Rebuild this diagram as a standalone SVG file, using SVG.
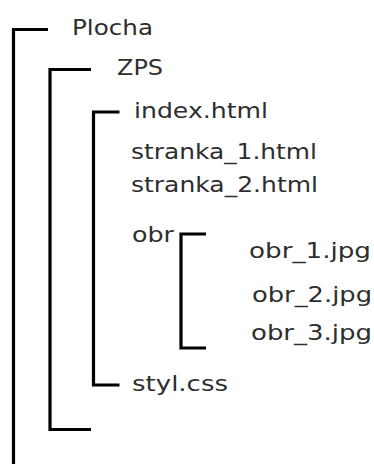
<svg xmlns="http://www.w3.org/2000/svg" width="374" height="464" viewBox="0 0 374 464">
<style>
  text { font-family: "DejaVu Sans", "Liberation Sans", sans-serif; font-size: 22px; fill: #2e2e2e; }
  .br { fill: none; stroke: #000; stroke-width: 3.2; stroke-linecap: butt; stroke-linejoin: miter; }
</style>
<rect width="374" height="464" fill="#fff"/>
<g id="connectors">
  <path class="br" d="M48,29.5 H13.5 V464"/>
  <path class="br" d="M91,69.5 H50 V429.5 H91"/>
  <path class="br" d="M119.5,112 H93.5 V385 H119.5"/>
  <path class="br" d="M206,234 H181 V348 H206"/>
</g>
<g id="plocha"><text x="72" y="34.5" textLength="81" lengthAdjust="spacingAndGlyphs">Plocha</text></g>
<g id="zps"><text x="117" y="75" textLength="46" lengthAdjust="spacingAndGlyphs">ZPS</text></g>
<g id="index"><text x="134" y="118" textLength="134" lengthAdjust="spacingAndGlyphs">index.html</text></g>
<g id="stranka1"><text x="131" y="159" textLength="186" lengthAdjust="spacingAndGlyphs">stranka_1.html</text></g>
<g id="stranka2"><text x="131" y="192" textLength="187" lengthAdjust="spacingAndGlyphs">stranka_2.html</text></g>
<g id="obr"><text x="132" y="241.5" textLength="42" lengthAdjust="spacingAndGlyphs">obr</text></g>
<g id="obr1"><text x="249" y="258" textLength="122" lengthAdjust="spacingAndGlyphs">obr_1.jpg</text></g>
<g id="obr2"><text x="252" y="302" textLength="120" lengthAdjust="spacingAndGlyphs">obr_2.jpg</text></g>
<g id="obr3"><text x="251" y="340" textLength="121" lengthAdjust="spacingAndGlyphs">obr_3.jpg</text></g>
<g id="styl"><text x="132" y="391" textLength="96" lengthAdjust="spacingAndGlyphs">styl.css</text></g>
</svg>
